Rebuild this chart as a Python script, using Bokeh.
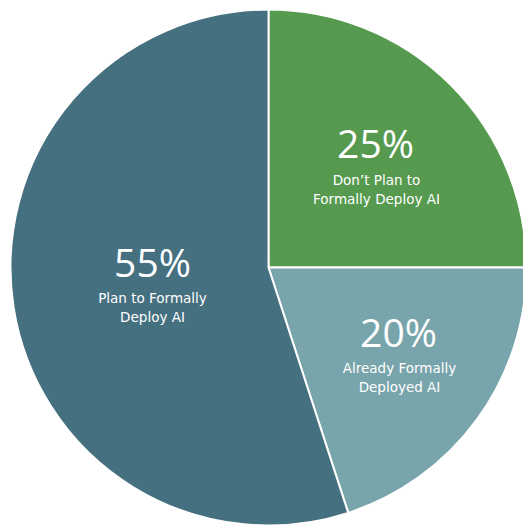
import numpy as np
from bokeh.plotting import figure
from bokeh.models import Range1d, ColumnDataSource
from bokeh.core.properties import value
from bokeh.embed import file_html
from bokeh.resources import INLINE

categories = ["Don\u2019t Plan to\nFormally Deploy AI", "Already Formally\nDeployed AI", "Plan to Formally\nDeploy AI"]
percents = [25, 20, 55]
colors = ["#569a50", "#78a4ab", "#45707f"]

W, H = 523, 525
cx, cy, r = 268, H - 267, 258

p = figure(width=W, height=H, output_backend="svg", toolbar_location=None,
           x_range=Range1d(0, W), y_range=Range1d(0, H), min_border=0)
p.axis.visible = False
p.grid.visible = False
p.outline_line_color = None
p.background_fill_color = "white"

vals = np.array(percents, dtype=float)
frac = vals / vals.sum() * 2 * np.pi
# clockwise from 12 o'clock
ends = np.pi / 2 - np.concatenate([[0], np.cumsum(frac)[:-1]])
starts = ends - frac
src = ColumnDataSource(dict(start=starts, end=ends, color=colors))
p.wedge(x=cx, y=cy, radius=r, start_angle="start", end_angle="end",
        fill_color="color", line_color="white", line_width=2, source=src)

# label positions (pixel space)
pct_pos = [(375, 142), (398, 331), (152, 261)]
lab_pos = [(376, 189), (399, 377), (152, 307)]

p.text(x=[q[0] for q in pct_pos], y=[H - q[1] for q in pct_pos],
       text=[f"{v}%" for v in percents], text_color="white",
       text_font=value("Open Sans"), text_font_size="39px",
       text_align="center", text_baseline="middle")
p.text(x=[q[0] for q in lab_pos], y=[H - q[1] for q in lab_pos],
       text=categories, text_color="white",
       text_font=value("DejaVu Sans"), text_font_size="13.5px",
       text_align="center", text_baseline="middle", text_line_height=1.15)

open("out.html", "w").write(file_html(p, INLINE))
